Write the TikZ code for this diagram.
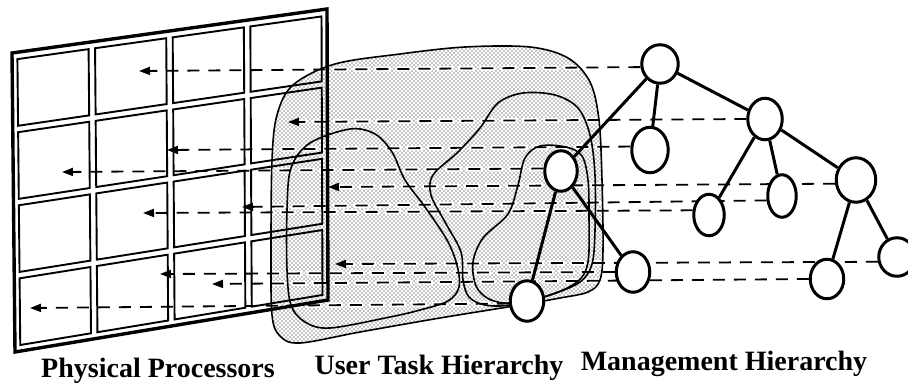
\documentclass[tikz,border=0pt]{standalone}
\usepackage{fontspec}
\setmainfont{Liberation Serif}
\usetikzlibrary{shapes.geometric,arrows.meta,patterns}

% stipple used for the task-hierarchy region
\pgfdeclarepatternformonly{stipple}{\pgfqpoint{-1pt}{-1pt}}{\pgfqpoint{3pt}{3pt}}{\pgfqpoint{4pt}{4pt}}{%
  \pgfpathcircle{\pgfqpoint{0pt}{0pt}}{0.68pt}%
  \pgfpathcircle{\pgfqpoint{2pt}{2pt}}{0.68pt}%
  \pgfusepath{fill}}

\pgfdeclarelayer{paper}
\pgfdeclarelayer{halo}
\pgfdeclarelayer{outline}
\pgfdeclarelayer{grid}
\pgfdeclarelayer{links}
\pgfdeclarelayer{edges}
\pgfsetlayers{paper,halo,outline,grid,links,edges,main}

% point of the processor plane, bilinear in (u,v)
\newcommand\procpt[3]{%
  \pgfmathsetmacro\procX{(1-#2)*(1-#3)*12+#2*(1-#3)*327+(1-#2)*#3*15+#2*#3*328}%
  \pgfmathsetmacro\procY{(1-#2)*(1-#3)*53+#2*(1-#3)*9+(1-#2)*#3*352+#2*#3*300}%
  \coordinate (#1) at (\procX,\procY);}

% outer boundary of the user task hierarchy
\newcommand\outerblob{plot[smooth cycle,tension=0.55] coordinates {
  (335,64) (400,54) (465,47) (530,47) (568,58) (590,82) (599,120) (602,180)
  (603,250) (600,280) (588,292) (560,298) (520,305) (440,318) (360,332)
  (300,343) (280,336) (272,315) (271,250) (272,160) (277,115) (293,85)}}

\begin{document}
\begin{tikzpicture}[x=1pt,y=-1pt,
  mgr/.style={ellipse,draw,line width=3pt,fill=white,inner sep=0pt},
  tedge/.style={line width=3pt},
  dashpat/.style={dash pattern=on 12pt off 9pt},
  maplink/.style={dashpat,line width=1.8pt,-{Triangle[length=11pt,width=8pt]}},
  halo/.style={dashpat,white,line width=5pt,line cap=round},
  contour/.style={line width=1.6pt},
  frame/.style={line width=3.4pt,line join=miter},
  cell/.style={line width=1.9pt},
  lbl/.style={font=\bfseries\fontsize{28}{31}\selectfont,anchor=base,inner sep=0pt}]

\useasboundingbox (0,0) rectangle (908,383);

% management hierarchy
\node[mgr,minimum width=36.5pt,minimum height=38.5pt] (root) at (660,64) {};
\node[mgr,minimum width=34.5pt,minimum height=41.5pt] (A) at (765,119) {};
\node[mgr,minimum width=36.5pt,minimum height=45.5pt] (B) at (650,150) {};
\node[mgr,minimum width=32.5pt,minimum height=40.5pt] (C) at (561,171) {};
\node[mgr,minimum width=30.5pt,minimum height=41.5pt] (D) at (709,215) {};
\node[mgr,minimum width=28.5pt,minimum height=42.5pt] (E) at (782,196) {};
\node[mgr,minimum width=39.5pt,minimum height=44.5pt] (F) at (856,180) {};
\node[mgr,minimum width=33.5pt,minimum height=40.5pt] (G) at (633,272) {};
\node[mgr,minimum width=33.5pt,minimum height=40.5pt] (H) at (527,301) {};
\node[mgr,minimum width=33.5pt,minimum height=39.5pt] (I) at (827,279) {};
\node[mgr,minimum width=36.5pt,minimum height=38.5pt] (J) at (897,257) {};

\begin{pgfonlayer}{edges}
  \foreach \p/\c in {root/A,root/B,root/C,A/D,A/E,A/F,F/I,F/J,C/G,C/H}
    \draw[tedge] (\p) -- (\c);
\end{pgfonlayer}

% processors the tasks are mapped onto
\coordinate (tRoot) at (139,71);
\coordinate (tA) at (288,122);
\coordinate (tB) at (167,150);
\coordinate (tC) at (62,172);
\coordinate (tF) at (328,187);
\coordinate (tE) at (242,207);
\coordinate (tD) at (143,213);
\coordinate (tJ) at (335,264);
\coordinate (tG) at (160,274);
\coordinate (tI) at (212,284);
\coordinate (tH) at (30,308);

\newcommand\linklist{root/189/tRoot,A/180/tA,B/170/tB,C/172/tC,F/190/tF,E/196/tE,
  D/164/tD,J/194/tJ,G/180/tG,I/180/tI,H/188/tH}

\begin{pgfonlayer}{paper}
  \fill[white] (0,0) rectangle (908,383);
  \fill[pattern=stipple] \outerblob;
\end{pgfonlayer}

\begin{pgfonlayer}{halo}
  \begin{scope}
    \clip \outerblob;
    \foreach \n/\a/\t in \linklist \draw[halo] (\n.\a) -- (\t);
  \end{scope}
\end{pgfonlayer}

\begin{pgfonlayer}{outline}
  \draw[contour] \outerblob;
  % left task group
  \draw[contour] plot[smooth cycle,tension=0.55] coordinates {
    (350,129) (375,134) (392,152) (405,180) (425,207) (447,240) (457,265)
    (459,287) (448,301) (420,310) (390,317) (330,328) (305,322) (291,305)
    (287,270) (287,210) (291,168) (310,143)};
  % right task group
  \draw[contour] plot[smooth cycle,tension=0.55] coordinates {
    (523,93) (555,95) (578,108) (590,135) (595,175) (595,230) (592,264)
    (580,282) (550,295) (510,305) (485,305) (469,297) (463,280) (461,252)
    (445,222) (431,195) (433,175) (458,152) (480,128) (498,103)};
  % subgroup below the right group's root
  \draw[contour] plot[smooth cycle,tension=0.55] coordinates {
    (540,146) (566,147) (582,156) (588,180) (589,215) (588,262) (577,282)
    (547,296) (510,303) (489,299) (476,286) (473,262) (483,238) (508,214)
    (518,185) (525,158)};
\end{pgfonlayer}

\begin{pgfonlayer}{grid}
  \procpt{pTL}{0}{0}\procpt{pTR}{1}{0}\procpt{pBR}{1}{1}\procpt{pBL}{0}{1}
  \draw[frame] (pTL) -- (pTR) -- (pBR) -- (pBL) -- cycle;
  \foreach \i in {0,1,2,3}{
    \foreach \j in {0,1,2,3}{
      \pgfmathsetmacro\ua{0.017+\i*0.2465}
      \pgfmathsetmacro\ub{\ua+0.226}
      \pgfmathsetmacro\va{0.023+\j*0.2445}
      \pgfmathsetmacro\vb{\va+0.223}
      \procpt{q1}{\ua}{\va}\procpt{q2}{\ub}{\va}
      \procpt{q3}{\ub}{\vb}\procpt{q4}{\ua}{\vb}
      \draw[cell] (q1) -- (q2) -- (q3) -- (q4) -- cycle;
    }
  }
\end{pgfonlayer}

\begin{pgfonlayer}{links}
  \foreach \n/\a/\t in \linklist \draw[maplink] (\n.\a) -- (\t);
\end{pgfonlayer}

\node[lbl] (lphys) at (158,377) {Physical Processors};
\node[lbl] (luser) at (439,374) {User Task Hierarchy};
\node[lbl] (lmgmt) at (724,370) {Management Hierarchy};
\end{tikzpicture}
\end{document}
